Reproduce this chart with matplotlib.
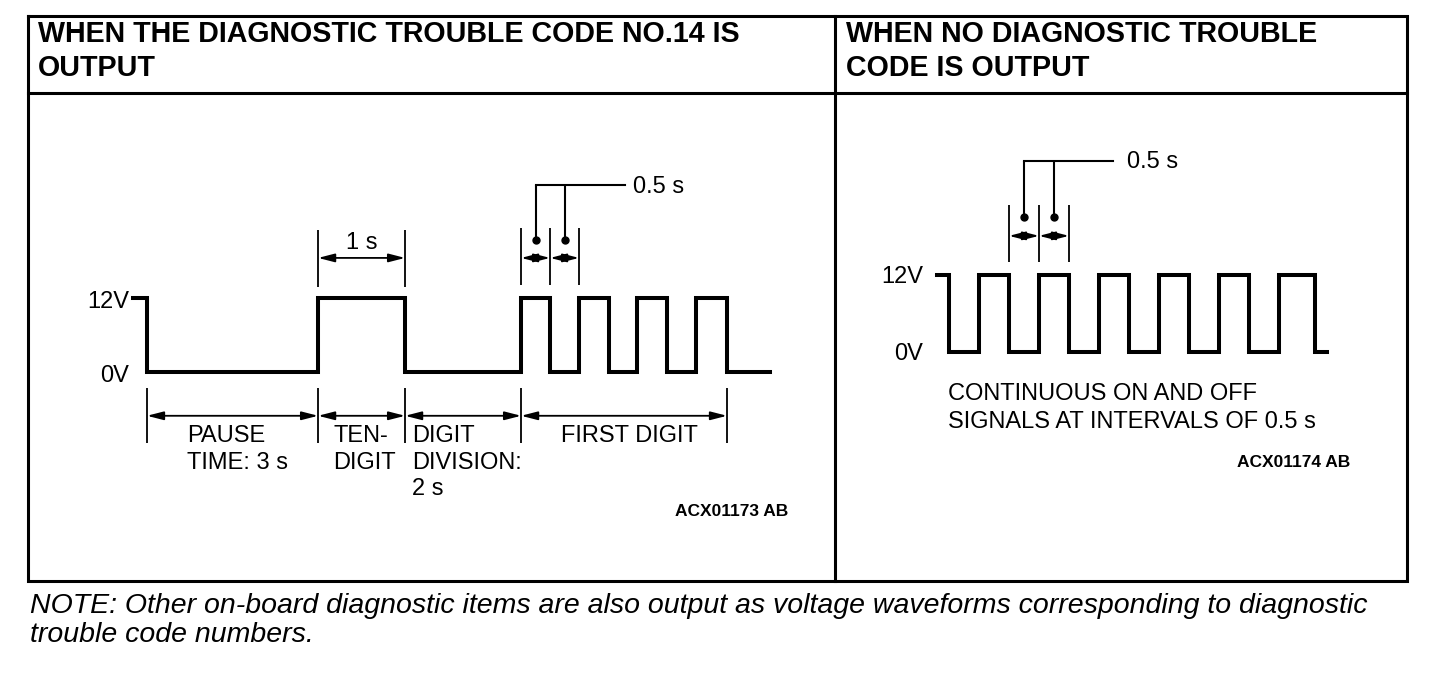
import matplotlib
matplotlib.use('Agg')
import matplotlib.pyplot as plt

plt.rcParams['font.family'] = ['Liberation Sans', 'DejaVu Sans']

# ---- data ------------------------------------------------------------
# left panel, code 14: edge times (drawn seconds) and level after each edge
left_t = [-0.24, 0, 2.95, 4.45, 6.45, 6.95, 7.45, 7.97, 8.45, 8.97, 9.47, 10.0, 10.75]
left_v = [12, 0, 12, 0, 12, 0, 12, 0, 12, 0, 12, 0, 0]
left_bounds = [0, 2.95, 4.45, 6.45, 10.0]
left_labels = ['PAUSE\nTIME: 3 s', 'TEN-\nDIGIT', 'DIGIT\nDIVISION:\n2 s', 'FIRST DIGIT']
left_label_dx = [0.69, 0.26, 0.12, None]   # None -> centred
one_sec = (2.95, 4.45)
half_sec_left = (6.45, 6.95, 7.45)

# right panel, no code: on/off every 0.5 s
right_t = [-0.2, 0, 0.5, 1.0, 1.5, 2.0, 2.5, 3.0, 3.5, 4.0, 4.5, 5.0, 5.5, 6.1, 6.3]
right_v = [12, 0, 12, 0, 12, 0, 12, 0, 12, 0, 12, 0, 12, 0, 0]
half_sec_right = (1.0, 1.5, 2.0)

levels = [0, 12]
level_names = ['0V', '12V']

W, H = 1456, 678
LW_WAVE = 2.9
LW_THIN = 1.3
FS = 17

fig = plt.figure(figsize=(W / 100, H / 100), dpi=100)

# frame + headings, in pixel coords
ax0 = fig.add_axes([0, 0, 1, 1])
ax0.set_xlim(0, W)
ax0.set_ylim(H, 0)
ax0.axis('off')
ax0.plot([28, 1407, 1407, 28, 28], [16, 16, 581, 581, 16], color='black', lw=2.2,
         solid_joinstyle='miter')
ax0.plot([28, 1407], [93, 93], color='black', lw=2.2)
ax0.plot([835, 835], [16, 581], color='black', lw=2.2)

title_kw = dict(fontsize=20.6, fontweight='bold', va='baseline', ha='left')
ax0.text(38, 42, 'WHEN THE DIAGNOSTIC TROUBLE CODE NO.14 IS', **title_kw)
ax0.text(38, 76, 'OUTPUT', **title_kw)
ax0.text(846, 42, 'WHEN NO DIAGNOSTIC TROUBLE', **title_kw)
ax0.text(846, 76, 'CODE IS OUTPUT', **title_kw)

note_kw = dict(fontsize=20.5, style='italic', va='baseline', ha='left')
ax0.text(30, 613, 'NOTE: Other on-board diagnostic items are also output as voltage '
         'waveforms corresponding to diagnostic', **note_kw)
ax0.text(30, 642, 'trouble code numbers.', **note_kw)


def panel_axes(x0, px_per_s, y0, px_per_v):
    """overlay axes whose data units are seconds / volts"""
    ax = fig.add_axes([0, 0, 1, 1])
    ax.patch.set_alpha(0)
    ax.axis('off')
    ax.set_xlim((0 - x0) / px_per_s, (W - x0) / px_per_s)
    ax.set_ylim((y0 - H) / px_per_v, y0 / px_per_v)
    return ax


def dim_arrow(ax, xa, xb, y):
    ax.annotate('', xy=(xb, y), xytext=(xa, y),
                arrowprops=dict(arrowstyle='<|-|>,head_length=0.7,head_width=0.18',
                                mutation_scale=14, lw=LW_THIN, color='black',
                                shrinkA=0, shrinkB=0))


def half_sec_callout(ax, xs, y_lo, y_hi, y_arrow, y_dot, y_top, x_end, x_text, y_text):
    ax.vlines(xs, y_lo, y_hi, color='black', lw=LW_THIN)
    for a, b in zip(xs[:-1], xs[1:]):
        dim_arrow(ax, a, b, y_arrow)
    mids = [(a + b) / 2 for a, b in zip(xs[:-1], xs[1:])]
    ax.plot(mids, [y_dot] * len(mids), 'o', color='black', ms=5)
    ax.vlines(mids, y_dot, y_top, color='black', lw=1.5)
    ax.plot([mids[0], x_end], [y_top, y_top], color='black', lw=1.5)
    ax.text(x_text, y_text, '0.5 s', fontsize=FS, va='baseline', ha='left')


# ---- left waveform ---------------------------------------------------
axL = panel_axes(147, 58, 372, 74 / 12)
axL.plot(left_t, left_v, drawstyle='steps-post', color='black', lw=LW_WAVE,
         solid_joinstyle='miter')
for lv, name in zip(levels, level_names):
    axL.text(-0.31, lv - 1.6, name, fontsize=FS, ha='right', va='baseline')

# 1 s dimension
axL.vlines(one_sec, 13.8, 23.0, color='black', lw=LW_THIN)
dim_arrow(axL, one_sec[0], one_sec[1], 18.5)
axL.text(sum(one_sec) / 2, 19.9, '1 s', fontsize=FS, ha='center', va='baseline')

# 0.5 s callout
half_sec_callout(axL, half_sec_left, 14.1, 23.35, 18.5, 21.4, 30.3, 8.24, 8.38, 29.0)

# segment dimensions below
axL.vlines(left_bounds, -11.5, -2.6, color='black', lw=LW_THIN)
for a, b in zip(left_bounds[:-1], left_bounds[1:]):
    dim_arrow(axL, a, b, -7.1)
for a, b, lab, dx in zip(left_bounds[:-1], left_bounds[1:], left_labels, left_label_dx):
    for i, line in enumerate(lab.split('\n')):
        yb = -11.35 - i * 4.3
        if dx is None:
            axL.text((a + b) / 2 + 0.1, yb, line, fontsize=FS, ha='center', va='baseline')
        else:
            axL.text(a + dx, yb, line, fontsize=FS, ha='left', va='baseline')
ax0.text(675, 516, 'ACX01173 AB', fontsize=12.5, fontweight='bold', va='baseline')

# ---- right waveform --------------------------------------------------
axR = panel_axes(949, 60, 352, 77 / 12)
axR.plot(right_t, right_v, drawstyle='steps-post', color='black', lw=LW_WAVE,
         solid_joinstyle='miter')
for lv, name in zip(levels, level_names):
    axR.text(-0.43, lv - 1.3, name, fontsize=FS, ha='right', va='baseline')
half_sec_callout(axR, half_sec_right, 14.0, 22.9, 18.1, 21.0, 29.8, 2.73, 2.97, 28.7)

ax0.text(948, 400, 'CONTINUOUS ON AND OFF', fontsize=FS, va='baseline')
ax0.text(948, 428, 'SIGNALS AT INTERVALS OF 0.5 s', fontsize=FS, va='baseline')
ax0.text(1237, 467, 'ACX01174 AB', fontsize=12.5, fontweight='bold', va='baseline')

fig.savefig('out.png', dpi=100)
